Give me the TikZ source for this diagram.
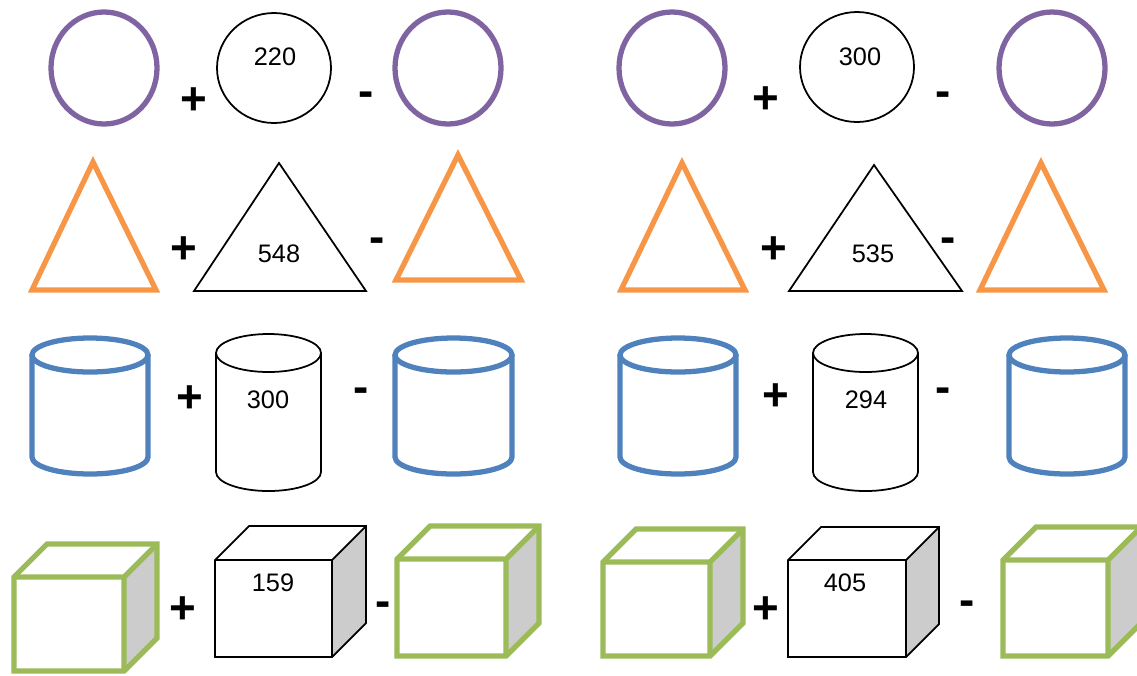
\documentclass[tikz,border=0pt]{standalone}
\usepackage{fontspec}
\setmainfont{Liberation Sans}
\definecolor{ringpurple}{HTML}{8064A2}
\definecolor{triorange}{HTML}{F79646}
\definecolor{canblue}{HTML}{4F81BD}
\definecolor{boxgreen}{HTML}{9BBB59}
\definecolor{boxgrey}{HTML}{CCCCCC}
\tikzset{
  thin shape/.style={draw=black, line width=0.5pt},
  ring/.style={draw=ringpurple, line width=1.5pt},
  tri/.style={draw=triorange, line width=1.5pt},
  can/.style={draw=canblue, line width=1.5pt},
  cube/.style={draw=boxgreen, line width=1.5pt},
  val/.style={inner sep=0pt, font=\fontsize{7.2}{8}\selectfont},
  sign/.style={inner sep=0pt, font=\fontsize{13}{14}\selectfont\bfseries}
}
\newcommand{\drawtri}[6]{%
  \draw[#6] (#1,#2) -- (#4,#5) -- (#3,#5) -- cycle;}
\newcommand{\drawcan}[6]{%
  \pgfmathsetmacro{\canrx}{(#2-#1)/2}
  \pgfmathsetmacro{\canmx}{(#1+#2)/2}
  \draw[#6] (#1,#3) -- (#1,#4) arc[start angle=180, end angle=0, x radius=\canrx, y radius=#5] -- (#2,#3);
  \draw[#6] (\canmx,#3) ellipse[x radius=\canrx, y radius=#5];}
\newcommand{\drawbox}[6]{%
  \fill[boxgrey] (#2,#3) -- (#2+#5,#3-#5) -- (#2+#5,#4-#5) -- (#2,#4) -- cycle;
  \draw[#6] (#1,#3) -- (#2,#3) -- (#2,#4) (#2,#3) -- (#2+#5,#3-#5);
  \draw[#6] (#1,#4) -- (#1,#3) -- (#1+#5,#3-#5) -- (#2+#5,#3-#5) -- (#2+#5,#4-#5) -- (#2,#4) -- cycle;}
\begin{document}
\begin{tikzpicture}[x=0.01cm, y=-0.01cm]
            \useasboundingbox (0,0) rectangle (1137,675);
            % circles
            \draw[ring] (104,68) ellipse[x radius=53, y radius=56];
            \draw[thin shape] (274,68) ellipse[x radius=57, y radius=55];
            \draw[ring] (448,68) ellipse[x radius=53, y radius=56];
            \draw[ring] (672,68) ellipse[x radius=53, y radius=56];
            \draw[thin shape] (857,67) ellipse[x radius=57, y radius=55];
            \draw[ring] (1052,68) ellipse[x radius=53, y radius=56];
            \node[val] (cL) at (275,57) {220};
            \node[val] (cR) at (860,57) {300};
            \node[sign] (plusCL) at (194,101) {+};
            \node[sign] (minusCL) at (366,99) {-};
            \node[sign] (plusCR) at (766,100) {+};
            \node[sign] (minusCR) at (943,99) {-};
            % triangles
            \drawtri{93}{162}{32}{156}{290}{tri}
            \drawtri{279}{163}{194}{366}{291}{thin shape}
            \drawtri{458}{155}{396}{521}{280}{tri}
            \drawtri{682}{163}{621}{745}{290}{tri}
            \drawtri{874}{165}{789}{962}{291}{thin shape}
            \drawtri{1041}{163}{980}{1104}{290}{tri}
            \node[val] (tL) at (279,254) {548};
            \node[val] (tR) at (873,254) {535};
            \node[sign] (plusTL) at (184,250) {+};
            \node[sign] (minusTL) at (377,245) {-};
            \node[sign] (plusTR) at (774,250) {+};
            \node[sign] (minusTR) at (948,245) {-};
            % cylinders
            \drawcan{32}{148}{355}{457}{17}{can}
            \drawcan{216}{321}{353}{472}{19}{thin shape}
            \drawcan{395}{512}{355}{457}{17}{can}
            \drawcan{620}{736}{355}{457}{17}{can}
            \drawcan{813}{918}{353}{472}{19}{thin shape}
            \drawcan{1009}{1125}{355}{457}{17}{can}
            \node[val] (yL) at (268,400) {300};
            \node[val] (yR) at (866,400) {294};
            \node[sign] (plusYL) at (190,399) {+};
            \node[sign] (minusYL) at (361,395) {-};
            \node[sign] (plusYR) at (776,397) {+};
            \node[sign] (minusYR) at (943,395) {-};
            % cubes
            \drawbox{14}{124}{577}{671}{33}{cube}
            \drawbox{215}{332}{560}{657}{34}{thin shape}
            \drawbox{397}{506}{559}{656}{33}{cube}
            \drawbox{603}{710}{562}{656}{33}{cube}
            \drawbox{788}{906}{560}{657}{33}{thin shape}
            \drawbox{1003}{1108}{560}{656}{33}{cube}
            \node[val] (bL) at (273,583) {159};
            \node[val] (bR) at (845,583) {405};
            \node[sign] (plusBL) at (183,610) {+};
            \node[sign] (minusBL) at (383,609) {-};
            \node[sign] (plusBR) at (766,610) {+};
            \node[sign] (minusBR) at (967,608) {-};
\end{tikzpicture}
\end{document}
